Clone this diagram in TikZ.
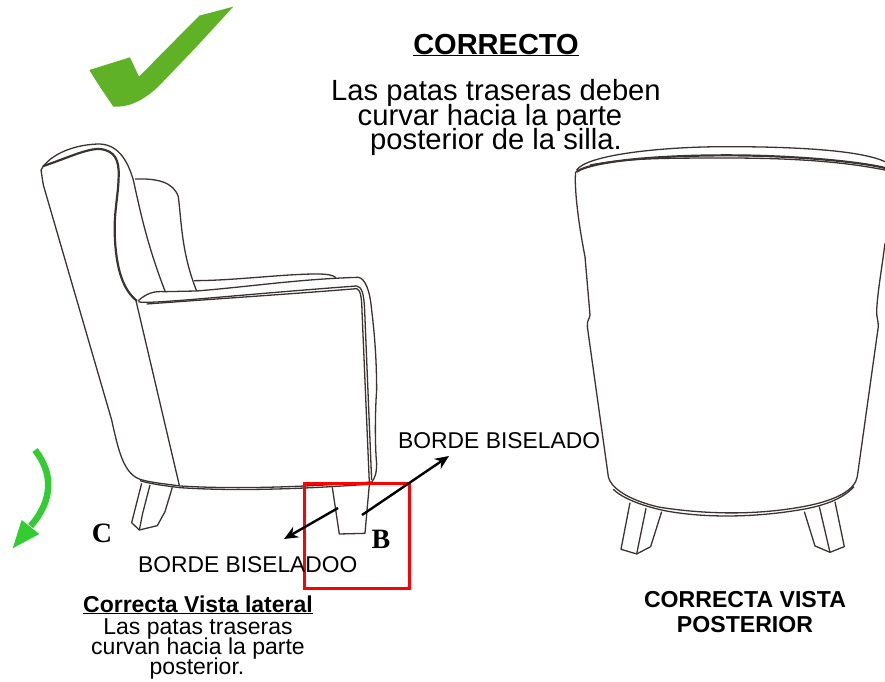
\documentclass[tikz,border=0pt]{standalone}
\usepackage{fontspec}
\setmainfont{Liberation Sans}
\newfontfamily\letterfont{Liberation Serif}
\usetikzlibrary{arrows.meta}
\definecolor{chairline}{HTML}{3A3331}
\definecolor{checkgreen}{HTML}{5FB226}
\definecolor{arrowgreen}{HTML}{33CC33}
\tikzset{
  chair/.style={draw=chairline, line width=1.3pt, line join=round},
  chairbold/.style={draw=chairline, line width=2.2pt, line cap=round},
  label/.style={inner sep=0pt, anchor=base},
  pointer/.style={-{Stealth[length=14pt,width=12pt]}, line width=2.4pt, black},
}
\begin{document}
\begin{tikzpicture}[x=1pt,y=-1pt]
      \useasboundingbox (0, 0) rectangle (885, 681);

      % Check mark
      \begin{scope}[shift={(70, 0)}, x=0.3333pt, y=-0.3333pt]
        \fill [checkgreen] (58, 210) -- (180, 172) -- (207, 230) -- (388, 47) -- (490, 20) -- (380, 140) -- (265, 260)
          .. controls (210, 310) and (170, 322) .. (130, 320)
          .. controls (110, 290) and (85, 255) .. (58, 210) -- cycle;
      \end{scope}

      % Side view
      \begin{scope}[shift={(0, 130)}, x=0.3333pt, y=-0.3333pt]
        \draw [chair] (123, 120) -- (130, 165) -- (335, 870)
          .. controls (355, 960) and (370, 1030) .. (420, 1048)
          .. controls (450, 1058) and (500, 1062) .. (540, 1068)
          .. controls (700, 1078) and (900, 1072) .. (1115, 1056);
        \draw [chair] (420, 1052) .. controls (450, 1062) and (500, 1068) .. (540, 1073)
          .. controls (700, 1084) and (900, 1078) .. (1115, 1062);
        \draw [chair] (123, 120) .. controls (150, 70) and (230, 42) .. (300, 42)
          .. controls (360, 45) and (385, 100) .. (400, 150)
          .. controls (420, 240) and (440, 340) .. (495, 483);
        \draw [chairbold] (130, 108) .. controls (200, 85) and (260, 55) .. (300, 57)
          .. controls (345, 62) and (358, 90) .. (356, 140)
          .. controls (355, 200) and (340, 250) .. (345, 330)
          .. controls (350, 420) and (370, 480) .. (410, 512);
        \draw [chair] (405, 147) .. controls (470, 145) and (520, 155) .. (535, 200)
          .. controls (545, 280) and (545, 370) .. (590, 483);
        \draw [chair] (582, 452) .. controls (700, 452) and (850, 432) .. (950, 432)
          .. controls (985, 432) and (1000, 436) .. (1008, 443);
        \draw [chair] (415, 512) .. controls (440, 490) and (460, 483) .. (495, 485)
          -- (590, 483) .. controls (750, 470) and (900, 447) .. (1075, 442)
          .. controls (1095, 445) and (1110, 480) .. (1115, 540)
          .. controls (1125, 620) and (1130, 700) .. (1130, 780)
          .. controls (1125, 850) and (1125, 950) .. (1130, 1000)
          .. controls (1130, 1030) and (1125, 1045) .. (1115, 1056);
        \draw [chair] (415, 515) .. controls (440, 525) and (700, 495) .. (1070, 468)
          .. controls (1085, 470) and (1092, 490) .. (1094, 540) -- (1115, 1050);
        \draw [chair] (440, 522) .. controls (700, 503) and (900, 490) .. (1070, 476)
          .. controls (1080, 480) and (1085, 495) .. (1086, 540) -- (1108, 1056);
        \draw [chair] (408, 512) -- (538, 1066);
      \end{scope}

      % Side view legs
      \begin{scope}[shift={(0, 430)}, x=0.3333pt, y=-0.3333pt]
        \draw [chair] (425, 160) -- (395, 278) -- (418, 300) -- (472, 287) -- (495, 245) -- (517, 172);
        \draw [chair] (450, 165) -- (428, 250) -- (418, 300);
        \draw [chair] (997, 172) -- (1018, 312) -- (1095, 310) -- (1108, 165);
      \end{scope}

      % Back view
      \begin{scope}[shift={(560, 130)}, x=0.3333pt, y=-0.3333pt]
        \draw [chair] (47, 125) .. controls (42, 170) and (55, 280) .. (75, 380) -- (90, 555)
          .. controls (90, 565) and (80, 570) .. (82, 590) -- (145, 1040)
          .. controls (150, 1070) and (200, 1110) .. (300, 1132)
          .. controls (450, 1155) and (600, 1155) .. (740, 1128)
          .. controls (830, 1110) and (885, 1080) .. (892, 1040) -- (955, 590)
          .. controls (955, 570) and (950, 565) .. (950, 545)
          .. controls (952, 490) and (965, 420) .. (975, 340);
        \draw [chair] (160, 1078) .. controls (200, 1118) and (300, 1140) .. (330, 1145)
          .. controls (450, 1165) and (600, 1162) .. (740, 1136)
          .. controls (800, 1124) and (850, 1105) .. (882, 1070);
        \draw [chair] (50, 120) .. controls (80, 75) and (300, 50) .. (500, 50)
          .. controls (700, 50) and (900, 60) .. (975, 95);
        \draw [chairbold] (50, 125) .. controls (100, 92) and (300, 76) .. (500, 76)
          .. controls (700, 76) and (900, 95) .. (975, 114);
        \draw [chair] (90, 105) .. controls (200, 85) and (300, 84) .. (500, 84)
          .. controls (700, 84) and (850, 95) .. (975, 120);
        \draw [chair] (210, 1118) -- (183, 1258) -- (230, 1272) -- (272, 1250) -- (305, 1145);
        \draw [chair] (258, 1135) -- (230, 1272);
        \draw [chair] (733, 1145) -- (765, 1248) -- (810, 1267) -- (853, 1250) -- (825, 1115);
        \draw [chair] (778, 1130) -- (810, 1267);
      \end{scope}

      % Title and note
      \node [label, font=\fontsize{29}{29}\selectfont\bfseries] (title) at (496, 54) {\underline{CORRECTO}};
      \node [label, font=\fontsize{29.2}{30}\selectfont] (noteone) at (496, 100) {Las patas traseras deben};
      \node [label, font=\fontsize{29.2}{30}\selectfont] (notetwo) at (490, 125) {curvar hacia la parte};
      \node [label, font=\fontsize{29.2}{30}\selectfont] (notethree) at (496, 149) {posterior de la silla.};

      % Side caption
      \node [label, font=\fontsize{23}{23}\selectfont\bfseries] (sidetitle) at (198, 612) {\underline{Correcta Vista lateral}};
      \node [label, font=\fontsize{23}{23}\selectfont] (sideone) at (198, 634) {Las patas traseras};
      \node [label, font=\fontsize{23}{23}\selectfont] (sidetwo) at (198, 654) {curvan hacia la parte};
      \node [label, font=\fontsize{23}{23}\selectfont] (sidethree) at (197, 674) {posterior.};

      % Back caption
      \node [label, font=\fontsize{23.1}{23}\selectfont\bfseries] (backone) at (745, 607) {CORRECTA VISTA};
      \node [label, font=\fontsize{23.1}{23}\selectfont\bfseries] (backtwo) at (745, 632) {POSTERIOR};

      % Red frame and pointers
      \node [draw=red, line width=3pt, inner sep=0pt, minimum width=105pt, minimum height=105pt] (frame) at (356.5, 535.5) {};
      \node [label, anchor=base west, font=\fontsize{22.85}{23}\selectfont] (bordeup) at (398, 448) {BORDE BISELADO};
      \node [label, anchor=base west, font=\fontsize{22.8}{23}\selectfont] (bordedown) at (138, 572) {BORDE BISELADOO};
      \node [label, font=\letterfont\fontsize{28}{28}\selectfont\bfseries] (letterc) at (102, 542) {C};
      \node [label, font=\letterfont\fontsize{28}{28}\selectfont\bfseries] (letterb) at (381, 548) {B};

      \coordinate (legfront) at (362, 515);
      \coordinate (tipup) at (449, 456);
      \coordinate (legback) at (338, 508);
      \coordinate (tipdown) at (284, 539);
      \draw [pointer] (legfront) -- (tipup);
      \draw [pointer] (legback) -- (tipdown);

      % Green arrow
      \begin{scope}[shift={(0, 430)}, x=0.3333pt, y=-0.3333pt]
        \draw [arrowgreen, line width=6.5pt] (105, 60) .. controls (160, 130) and (160, 210) .. (92, 288);
        \fill [arrowgreen] (65, 270) -- (118, 312) -- (38, 355) -- cycle;
      \end{scope}
\end{tikzpicture}
\end{document}
